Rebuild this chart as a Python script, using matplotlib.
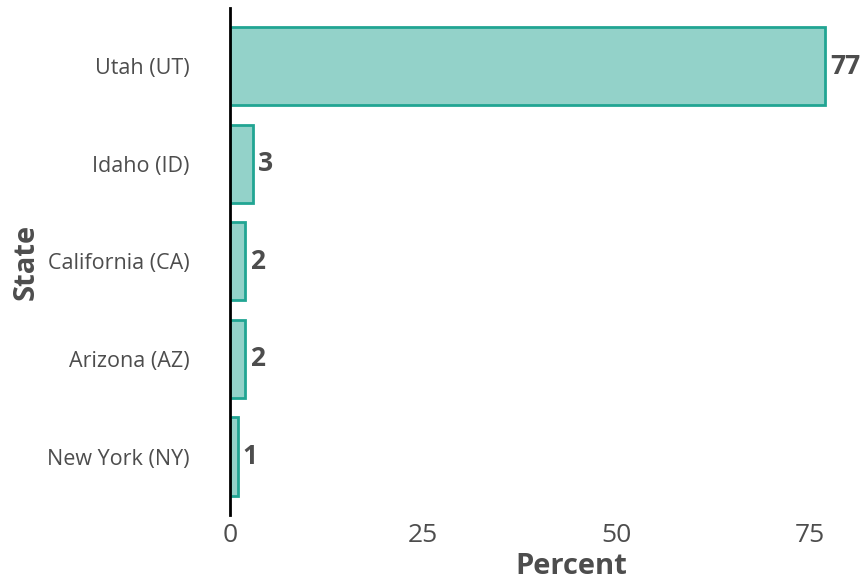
import matplotlib
matplotlib.use("Agg")
import matplotlib.pyplot as plt

states = ["New York (NY)", "Arizona (AZ)", "California (CA)", "Idaho (ID)", "Utah (UT)"]
percent = [1, 2, 2, 3, 77]
value_labels = ["1", "2", "2", "3", "77"]

plt.rcParams['font.family'] = ['Open Sans', 'DejaVu Sans']
text_col = "#4d4d4d"

fig = plt.figure(figsize=(8.64, 5.81), dpi=100)
ax = fig.add_axes([230 / 864, 66 / 581, 634 / 864, 507 / 581])

bars = ax.barh(range(len(states)), percent, height=0.8,
               color="#93d2c9", edgecolor="#21a593", linewidth=2)
for b, lab in zip(bars, value_labels):
    ax.text(b.get_width() + 0.6, b.get_y() + b.get_height() / 2, lab,
            va="center", ha="left", fontsize=19, fontweight="bold", color=text_col)

ax.set_xlim(0, 82)
ax.set_ylim(-0.6, 4.6)
ax.set_yticks(range(len(states)))
ax.set_yticklabels(states)
ax.set_xticks([0, 25, 50, 75])
ax.tick_params(axis="y", length=0, pad=29, labelsize=15.5, labelcolor=text_col)
ax.tick_params(axis="x", length=0, pad=6, labelsize=19, labelcolor=text_col)

for s in ["top", "right", "bottom"]:
    ax.spines[s].set_visible(False)
ax.spines["left"].set_linewidth(2)
ax.spines["left"].set_color("black")

ax.set_xlabel("Percent", fontsize=21, fontweight="bold", color=text_col)
ax.xaxis.set_label_coords(0.539, -0.073, transform=ax.transAxes)
ax.xaxis.label.set_va("top")
ax.set_ylabel("State", fontsize=21, fontweight="bold", color=text_col, labelpad=5)

fig.savefig("out.png", dpi=100)
